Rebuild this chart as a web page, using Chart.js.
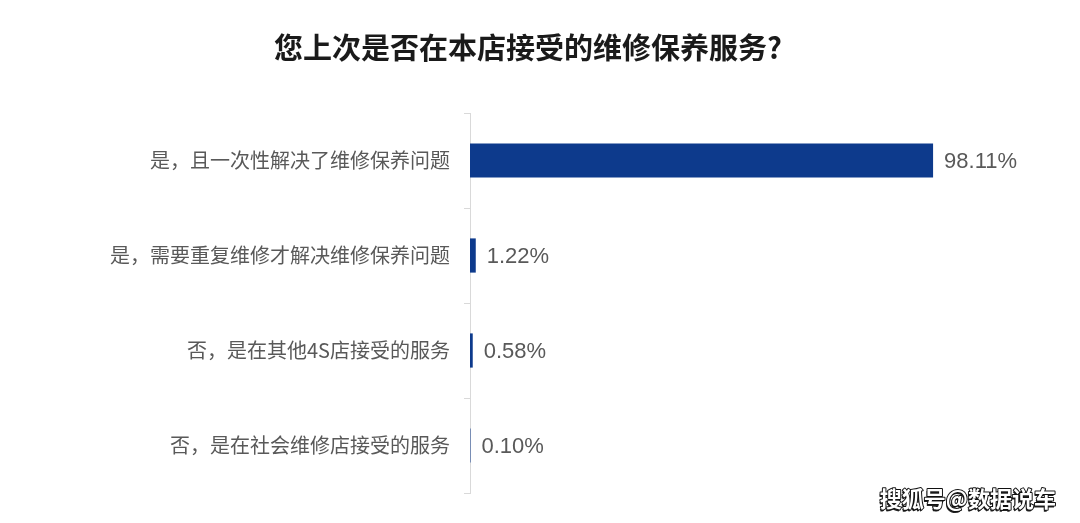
<!DOCTYPE html>
<html>
<head>
<meta charset="utf-8">
<script src="https://cdn.jsdelivr.net/npm/chart.js@4/dist/chart.umd.min.js"></script>
<style>
  html, body { margin: 0; padding: 0; background: #ffffff; }
  #wrap { width: 1080px; height: 523px; position: relative; }
</style>
</head>
<body>
<div id="wrap"><canvas id="c" width="1080" height="523"></canvas></div>
<script>
const titleText = '您上次是否在本店接受的维修保养服务?';
const categories = [
  '是，且一次性解决了维修保养问题',
  '是，需要重复维修才解决维修保养问题',
  '否，是在其他4S店接受的服务',
  '否，是在社会维修店接受的服务'
];
const values = [98.11, 1.22, 0.58, 0.10];
const valueLabels = ['98.11%', '1.22%', '0.58%', '0.10%'];
const watermark = '搜狐号@数据说车';

const CJK = '"Noto Sans CJK SC", "Noto Sans", sans-serif';
const NUM = '"Liberation Sans", Arial, sans-serif';

const titlePlugin = {
  id: 'customTitle',
  afterDraw(chart) {
    const ctx = chart.ctx;
    ctx.save();
    ctx.font = 'bold 29px ' + CJK;
    ctx.fillStyle = '#1a1a1a';
    ctx.textAlign = 'center';
    ctx.textBaseline = 'middle';
    ctx.fillText(titleText, 528, 48);
    ctx.restore();
  }
};

const valueLabelPlugin = {
  id: 'valueLabels',
  afterDatasetsDraw(chart) {
    const ctx = chart.ctx;
    const meta = chart.getDatasetMeta(0);
    ctx.save();
    ctx.font = '22px ' + NUM;
    ctx.fillStyle = '#595959';
    ctx.textAlign = 'left';
    ctx.textBaseline = 'middle';
    meta.data.forEach((bar, i) => {
      ctx.fillText(valueLabels[i], bar.x + 11, bar.y + 1);
    });
    ctx.restore();
  }
};

const watermarkPlugin = {
  id: 'watermark',
  afterDraw(chart) {
    const ctx = chart.ctx;
    ctx.save();
    ctx.font = 'bold 22px ' + CJK;
    ctx.textAlign = 'right';
    ctx.textBaseline = 'middle';
    ctx.lineJoin = 'round';
    ctx.fillStyle = '#222';
    ctx.fillText(watermark, 1055, 501);
    ctx.lineWidth = 2;
    ctx.strokeStyle = '#111';
    ctx.strokeText(watermark, 1056, 499);
    ctx.fillStyle = '#ffffff';
    ctx.fillText(watermark, 1056, 499);
    ctx.restore();
  }
};

new Chart(document.getElementById('c'), {
  type: 'bar',
  data: {
    labels: categories,
    datasets: [{
      data: values,
      backgroundColor: '#0d3a8c',
      borderWidth: 0,
      categoryPercentage: 1.0,
      barPercentage: 0.36
    }]
  },
  plugins: [titlePlugin, valueLabelPlugin, watermarkPlugin],
  options: {
    indexAxis: 'y',
    responsive: false,
    animation: false,
    devicePixelRatio: 1,
    layout: { padding: { top: 113, right: 138, bottom: 30, left: 0 } },
    plugins: {
      legend: { display: false },
      tooltip: { enabled: false },
      title: { display: false }
    },
    scales: {
      x: {
        display: false,
        min: 0,
        max: 100
      },
      y: {
        afterFit(scale) { scale.width = 470; },
        grid: {
          offset: true,
          drawOnChartArea: false,
          drawTicks: true,
          tickLength: 6,
          color: '#d9d9d9'
        },
        border: { display: true, color: '#d9d9d9', width: 1 },
        ticks: {
          color: '#595959',
          padding: 14,
          font: { family: CJK, size: 20 }
        }
      }
    }
  }
});
</script>
</body>
</html>
